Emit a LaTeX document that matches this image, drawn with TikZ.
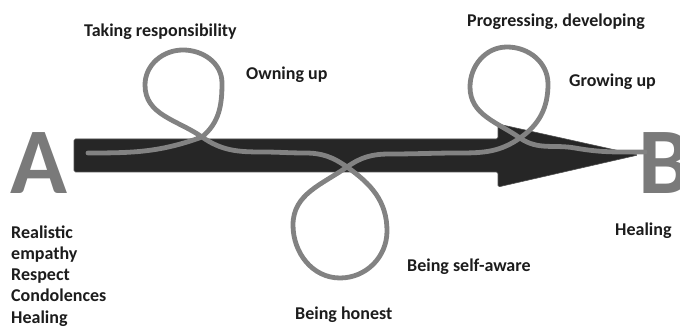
\documentclass[tikz,border=0pt]{standalone}
\usepackage{fontspec}
\setmainfont{Carlito}
\definecolor{arrowdark}{HTML}{262626}
\definecolor{loopgray}{HTML}{828282}
\definecolor{lettergray}{HTML}{7A7A7A}
\definecolor{textdark}{HTML}{1C1C1C}
\tikzset{
  lbl/.style={anchor=base west, inner sep=0pt, text=textdark, font=\fontsize{18}{21}\selectfont\bfseries},
  bigletter/.style={anchor=base west, inner sep=0pt, text=lettergray, font=\fontsize{94}{94}\selectfont\bfseries},
  bigarrow/.style={fill=arrowdark, draw=arrowdark!80!white, line width=0.6pt, rounded corners=1.5pt},
  journey/.style={draw=loopgray, line width=4.8pt, line cap=round, line join=round}
}
\begin{document}
\begin{tikzpicture}[x=1pt,y=1pt]
\useasboundingbox (0,0) rectangle (680,328);
\clip (0,0) rectangle (680,328);
% letters
\node[bigletter] (A) at (10,134) {A};
\node[bigletter] (B) at (638,134) {B};
% arrow
\path[bigarrow] (74,189) -- (498,189) -- (498,204) -- (638,173) -- (498,141) -- (498,156) -- (74,156) -- cycle;
% coordinates of the journey line
\coordinate (s) at (88,175);
\coordinate (c1) at (202,191);
\coordinate (r1) at (222,245);
\coordinate (t1) at (183,278);
\coordinate (l1) at (145,243);
\coordinate (m1) at (262,176);
\coordinate (m2) at (305,175);
\coordinate (c2) at (347,161);
\coordinate (r2) at (387,97);
\coordinate (b2) at (340,50);
\coordinate (l2) at (293,103);
\coordinate (m3) at (390,174);
\coordinate (m4) at (460,175);
\coordinate (c3) at (520,190);
\coordinate (r3) at (548,244);
\coordinate (t3) at (507,281);
\coordinate (l3) at (470,241);
\coordinate (m5) at (575,180);
\coordinate (e) at (645,176);
\draw[journey] (s) to[out=0,in=200] (c1)
  to[out=40,in=270] (r1)
  to[out=90,in=0] (t1)
  to[out=180,in=90] (l1)
  to[out=270,in=145] (c1)
  to[out=-35,in=180] (m1)
  to[out=0,in=180] (m2)
  to[out=0,in=145] (c2)
  to[out=-35,in=90] (r2)
  to[out=270,in=0] (b2)
  to[out=180,in=270] (l2)
  to[out=90,in=215] (c2)
  to[out=35,in=180] (m3)
  to[out=0,in=180] (m4)
  to[out=0,in=215] (c3)
  to[out=35,in=270] (r3)
  to[out=90,in=0] (t3)
  to[out=180,in=90] (l3)
  to[out=270,in=145] (c3)
  to[out=-35,in=170] (m5)
  to[out=-10,in=180] (e);
% labels
\node[lbl] (take) at (84,291) {Taking responsibility};
\node[lbl] (own) at (246,248) {Owning up};
\node[lbl] (prog) at (467,301) {Progressing, developing};
\node[lbl] (grow) at (569,241) {Growing up};
\node[lbl] (healB) at (615,92) {Healing};
\node[lbl] (aware) at (407,56) {Being self-aware};
\node[lbl] (honest) at (295,8) {Being honest};
\node[lbl] (l1t) at (11,89) {Realistic};
\node[lbl] (l2t) at (11,68) {empathy};
\node[lbl] (l3t) at (11,47) {Respect};
\node[lbl] (l4t) at (11,26) {Condolences};
\node[lbl] (l5t) at (11,4) {Healing};
\end{tikzpicture}
\end{document}
